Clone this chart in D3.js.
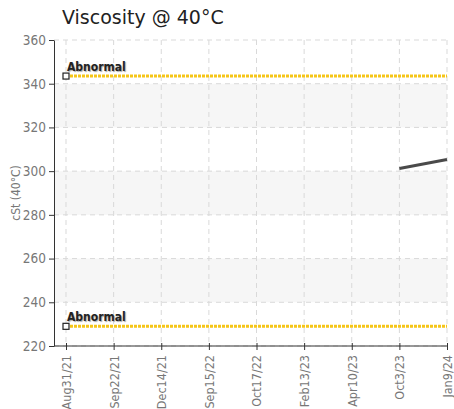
<!DOCTYPE html>
<html>
<head>
<meta charset="utf-8">
<script src="https://cdn.jsdelivr.net/npm/d3@7"></script>
<style>
  body { margin: 0; background: #fff; }
  .grid line { stroke: #d9d9d9; stroke-dasharray: 5,4; }
  .axis text { font-family: "DejaVu Sans Condensed", "Liberation Sans Narrow", sans-serif; font-stretch: condensed; font-size: 13.5px; fill: #777; }
  .x.axis text { font-size: 12.5px; }
  .axis path, .axis line { stroke: #333; }
</style>
</head>
<body>
<div class="chart"></div>
<script>
// data
var dates = ["Aug31/21", "Sep22/21", "Dec14/21", "Sep15/22", "Oct17/22", "Feb13/23", "Apr10/23", "Oct3/23", "Jan9/24"];
var values = [null, null, null, null, null, null, null, 301.2, 305.3];
var abnormalHigh = 343.5;
var abnormalLow = 229;
var yTicks = [220, 240, 260, 280, 300, 320, 340, 360];
var bands = [[320, 340], [280, 300], [240, 260]];

var width = 454;
var height = 409;
var margin = { left: 54, right: 7, top: 40, bottom: 63 };
var condensed = '"DejaVu Sans Condensed", "Liberation Sans Narrow", sans-serif';

var svg = d3.select('.chart').append('svg')
            .attr('width', width)
            .attr('height', height);

var x = d3.scalePoint()
          .domain(dates)
          .range([66, width - margin.right])
          .padding(0);

var y = d3.scaleLinear()
          .domain([220, 360])
          .range([height - margin.bottom, margin.top]);

// shaded bands
svg.append('g').selectAll('rect').data(bands).enter().append('rect')
   .attr('x', margin.left)
   .attr('width', width - margin.right - margin.left)
   .attr('y', function(d) { return y(d[1]); })
   .attr('height', function(d) { return y(d[0]) - y(d[1]); })
   .attr('fill', '#f6f6f6');

// grid
var grid = svg.append('g').attr('class', 'grid');
grid.selectAll('.h').data(yTicks).enter().append('line')
    .attr('x1', margin.left).attr('x2', width - margin.right)
    .attr('y1', function(d) { return y(d); }).attr('y2', function(d) { return y(d); });
grid.selectAll('.v').data(dates).enter().append('line')
    .attr('x1', function(d) { return x(d); }).attr('x2', function(d) { return x(d); })
    .attr('y1', y(360)).attr('y2', y(220));

// abnormal limits
[abnormalHigh, abnormalLow].forEach(function(v) {
  svg.append('line')
     .attr('x1', x(dates[0]) + 4).attr('x2', x(dates[dates.length - 1]))
     .attr('y1', y(v)).attr('y2', y(v))
     .attr('stroke', '#f5c518')
     .attr('stroke-width', 3)
     .style('stroke-dasharray', '3,1');
  svg.append('rect')
     .attr('x', x(dates[0]) - 3).attr('y', y(v) - 3)
     .attr('width', 6).attr('height', 6)
     .attr('fill', '#fff').attr('stroke', '#222').attr('stroke-width', 1.2);
  svg.append('text')
     .attr('x', x(dates[0]) + 1).attr('y', y(v) - 5)
     .attr('font-family', condensed)
     .attr('font-size', 12).attr('font-weight', 'bold')
     .attr('fill', '#222')
     .style('text-shadow', '1px 1px 1px #aaa')
     .text('Abnormal');
});

// data line
var line = d3.line()
             .defined(function(d) { return d != null; })
             .x(function(d, i) { return x(dates[i]); })
             .y(function(d) { return y(d); });

svg.append('path')
   .attr('d', line(values))
   .attr('fill', 'none')
   .attr('stroke', '#4a4a4a')
   .attr('stroke-width', 3);

// axes
var yAxis = d3.axisLeft(y).tickValues(yTicks).tickSize(5).tickSizeOuter(0);
svg.append('g').attr('class', 'y axis')
   .attr('transform', 'translate(' + margin.left + ',0)')
   .call(yAxis);

var xAxis = d3.axisBottom(x).tickSize(5).tickSizeOuter(0);
var xg = svg.append('g').attr('class', 'x axis')
   .attr('transform', 'translate(0,' + y(220) + ')')
   .call(xAxis);
xg.select('.domain').attr('d', 'M' + margin.left + ',0H' + (width - margin.right));
xg.selectAll('.tick line').attr('y1', -3).attr('y2', 4);
xg.selectAll('text')
  .attr('transform', 'rotate(-90)')
  .attr('x', -9).attr('y', 0).attr('dy', '0.35em')
  .style('text-anchor', 'end');

// titles
svg.append('text')
   .attr('x', 62).attr('y', 24)
   .attr('font-family', 'DejaVu Sans').attr('font-size', 19)
   .attr('fill', '#222')
   .text('Viscosity @ 40°C');

svg.append('text')
   .attr('transform', 'translate(20,' + y(290) + ') rotate(-90)')
   .attr('text-anchor', 'middle')
   .attr('font-family', condensed)
   .attr('font-size', 12).attr('fill', '#777')
   .text('cSt (40°C)');
</script>
</body>
</html>
